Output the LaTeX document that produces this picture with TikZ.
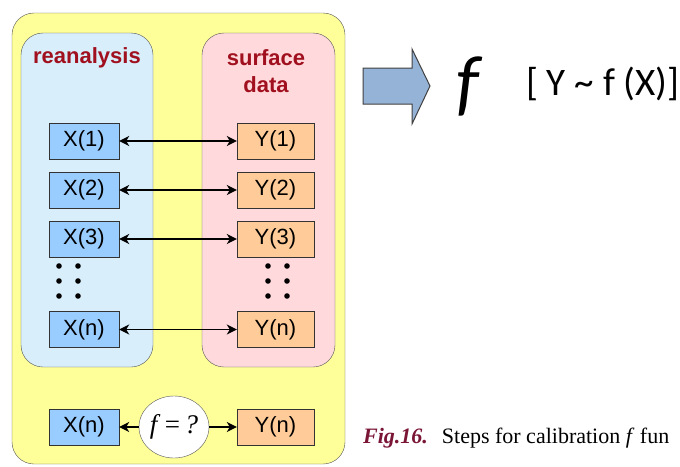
\documentclass[tikz,border=0pt]{standalone}
\usepackage{fontspec}
\setmainfont{Liberation Serif}
\setsansfont{Liberation Sans}
\newfontfamily\calib{Carlito}
\usetikzlibrary{arrows.meta,shapes.geometric}
\definecolor{outerY}{HTML}{FFFF99}
\definecolor{panelB}{HTML}{D8EEFB}
\definecolor{panelP}{HTML}{FFD9DB}
\definecolor{boxB}{HTML}{99CCFF}
\definecolor{boxO}{HTML}{FFCC99}
\definecolor{titleR}{HTML}{A0101E}
\definecolor{figR}{HTML}{7A1535}
\definecolor{arrB}{HTML}{95B3D7}
\definecolor{edgeG}{HTML}{555555}
\begin{document}
\begin{tikzpicture}[x=1pt,y=-1pt,
  xbox/.style={draw=black!80,fill=boxB,minimum width=70pt,minimum height=36pt,inner sep=0pt,font=\sffamily\fontsize{22}{24}\selectfont},
  ybox/.style={draw=black!80,fill=boxO,minimum width=77pt,minimum height=36pt,inner sep=0pt,font=\sffamily\fontsize{22}{24}\selectfont},
  ttl/.style={text=titleR,font=\sffamily\bfseries\fontsize{22}{27}\selectfont,align=center},
  conn/.style={line width=1.4pt,black,{Stealth[length=10pt,width=10pt,inset=3pt]}-{Stealth[length=10pt,width=10pt,inset=3pt]}},
  oneway/.style={line width=1.4pt,black,-{Stealth[length=10pt,width=10pt,inset=3pt]}},
  dotc/.style={fill=black}]
\useasboundingbox (0,0) rectangle (680,466);
% outer yellow
\draw[edgeG,fill=outerY,rounded corners=22pt] (12,13) rectangle (345,464);
% panels
\draw[edgeG,fill=panelB,rounded corners=22pt] (21,33) rectangle (153,367);
\draw[edgeG,fill=panelP,rounded corners=22pt] (202,33) rectangle (335,367);
% titles
\node[ttl] (t1) at (87,58) {reanalysis};
\node[ttl] (t2) at (266,71) {surface\\data};
% boxes
\node[xbox] (x1) at (84,141) {X(1)};
\node[xbox] (x2) at (84,190) {X(2)};
\node[xbox] (x3) at (84,239) {X(3)};
\node[xbox] (xn) at (84,329.5) {X(n)};
\node[xbox] (xb) at (84,427) {X(n)};
\node[ybox] (y1) at (275.5,141) {Y(1)};
\node[ybox] (y2) at (275.5,190) {Y(2)};
\node[ybox] (y3) at (275.5,239) {Y(3)};
\node[ybox] (yn) at (275.5,329.5) {Y(n)};
\node[ybox] (yb) at (275.5,427) {Y(n)};
% connectors
\draw[conn] (x1) -- (y1);
\draw[conn] (x2) -- (y2);
\draw[conn] (x3) -- (y3);
\draw[conn] (xn) -- (yn);
% ellipse
\node[draw=edgeG,fill=white,ellipse,minimum width=70pt,minimum height=62pt,inner sep=0pt,font=\fontsize{27}{29}\selectfont] (fq) at (174,427) {\textit{f}\,=\,\textit{?}};
\draw[oneway] (fq) -- (xb);
\draw[oneway] (fq) -- (yb);
% dots
\foreach \xx in {59,78,268,287}{
  \foreach \yy in {266,281,296}{
    \fill[dotc] (\xx,\yy) circle (2.8pt);
  }
}
% block arrow
\draw[black!75,fill=arrB,line width=1pt,line join=miter] (363,68) -- (412,68) -- (412,49) -- (430,86) -- (412,124) -- (412,104) -- (363,104) -- cycle;
% f and formula
\node[font=\calib\itshape\fontsize{74}{74}\selectfont,inner sep=0pt] (fbig) at (468,86) {f};
\node[anchor=west,font=\calib\fontsize{39}{40}\selectfont,inner sep=0pt] (form) at (526,84) {[ Y \char`\~{} f (X)]};
% caption
\node[anchor=base west,inner sep=0pt,font=\fontsize{22}{24}\selectfont] (cap) at (363,443) {\textcolor{figR}{\textbf{\textit{Fig.16.}}}\hspace{0.3em} Steps for calibration \textit{f} fun};
\end{tikzpicture}
\end{document}
